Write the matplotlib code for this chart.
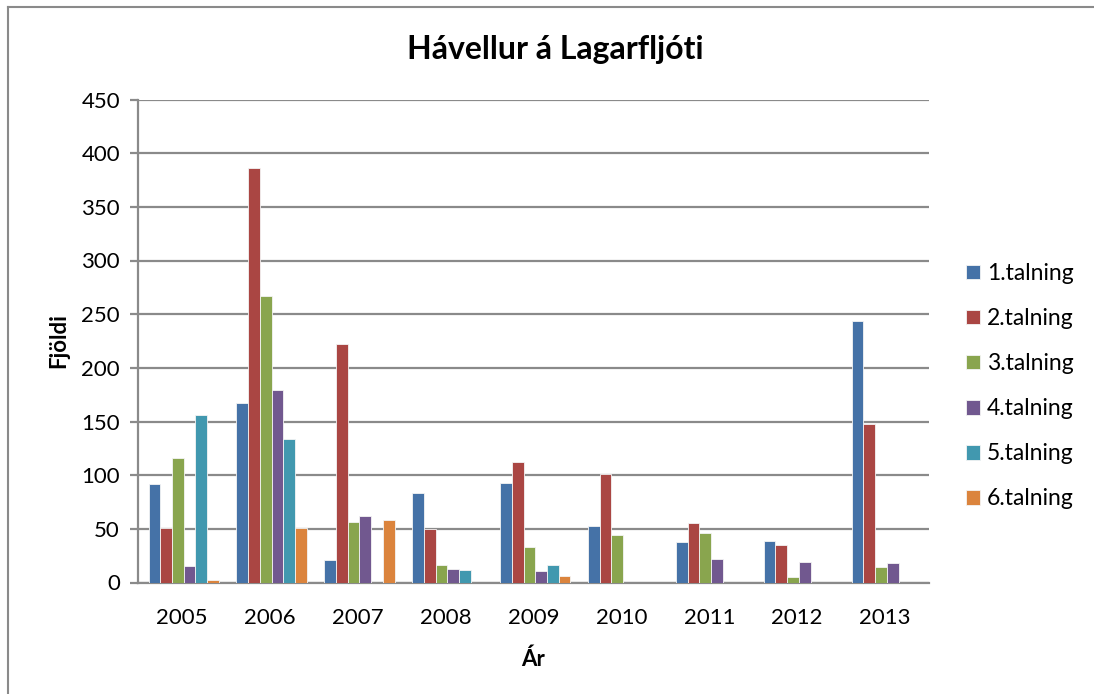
import matplotlib
matplotlib.use("Agg")
import matplotlib.pyplot as plt
import numpy as np
from matplotlib.lines import Line2D

plt.rcParams['font.family'] = ['Lato', 'DejaVu Sans']

years = ['2005', '2006', '2007', '2008', '2009', '2010', '2011', '2012', '2013']
series_names = ['1.talning', '2.talning', '3.talning', '4.talning', '5.talning', '6.talning']
talning1 = [92, 167, 21, 83, 93, 53, 38, 39, 244]
talning2 = [51, 386, 222, 50, 112, 101, 55, 35, 148]
talning3 = [116, 267, 56, 16, 33, 44, 46, 5, 14]
talning4 = [15, 179, 62, 13, 11, 0, 22, 19, 18]
talning5 = [156, 134, 0, 12, 16, 0, 0, 0, 0]
talning6 = [2, 51, 58, 0, 6, 0, 0, 0, 0]
series = [talning1, talning2, talning3, talning4, talning5, talning6]
colors = ['#4572A7', '#AA4643', '#89A54E', '#71588F', '#4198AF', '#DB843D']

W, H = 1094, 694
fig = plt.figure(figsize=(W / 100, H / 100), dpi=100)
bx, by = 8 / W, 1 - 6.5 / H
fig.add_artist(Line2D([bx, bx], [0, by], transform=fig.transFigure, color='#8a8a8a', linewidth=1.5))
fig.add_artist(Line2D([bx, 1], [by, by], transform=fig.transFigure, color='#8a8a8a', linewidth=1.5))

left, right, top, bottom = 138, 929, 99.5, 582.5
ax = fig.add_axes([left / W, 1 - bottom / H, (right - left) / W, (bottom - top) / H])

x = np.arange(len(years))
bw = 0.8 / 6
for i, (vals, c, name) in enumerate(zip(series, colors, series_names)):
    ax.bar(x - 0.4 + bw * (i + 0.5) + 0.02, vals, width=bw, color=c, label=name,
           edgecolor='#f4f4f4', linewidth=0.6, zorder=3)

ax.set_xlim(-0.5, len(years) - 0.5)
ax.set_ylim(0, 450)
ax.set_yticks(np.arange(0, 451, 50))
ax.set_xticks(x)
ax.set_xticklabels(years)
ax.yaxis.grid(True, color='#8a8a8a', linewidth=1.6, zorder=0)
ax.set_axisbelow(True)
for s in ['top', 'right']:
    ax.spines[s].set_visible(False)
for s in ['left', 'bottom']:
    ax.spines[s].set_color('#8a8a8a')
    ax.spines[s].set_linewidth(1.6)
ax.tick_params(axis='y', length=6, width=1.6, color='#8a8a8a', labelsize=16, pad=7)
ax.tick_params(axis='x', length=0, labelsize=16, pad=18)

fig.text(555 / W, 1 - 50 / H, 'Hávellur á Lagarfljóti', fontsize=23, fontweight='bold',
         ha='center', va='center')
ax.set_xlabel('Ár', fontsize=16, fontweight='bold', labelpad=15)
ax.set_ylabel('Fjöldi', fontsize=16, fontweight='bold', labelpad=9)

leg = fig.legend(loc='upper left', bbox_to_anchor=(957 / W, 1 - 254 / H), frameon=False,
                 fontsize=16.5, handlelength=0.6, handleheight=0.6, handletextpad=0.3,
                 labelspacing=1.05, borderaxespad=0)

fig.savefig('out.png', dpi=100, facecolor='white')
